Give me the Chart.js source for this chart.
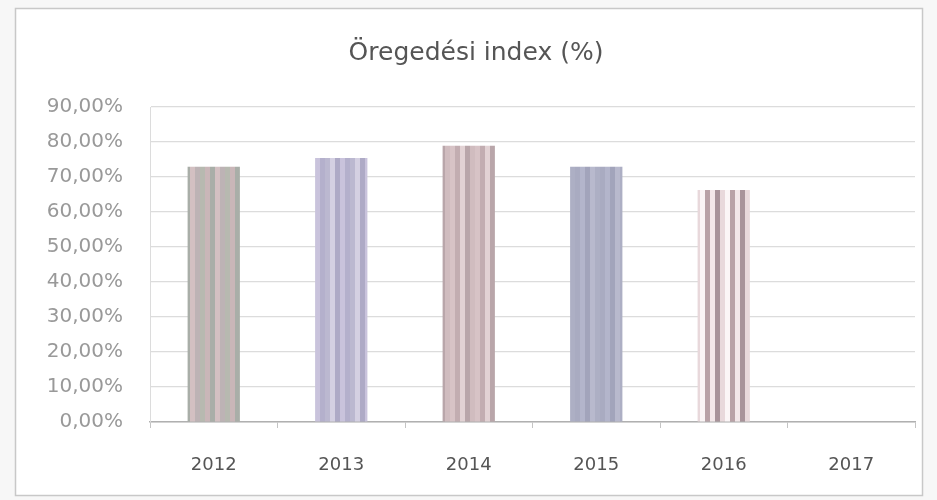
<!DOCTYPE html>
<html>
<head>
<meta charset="utf-8">
<script src="https://cdn.jsdelivr.net/npm/chart.js@4/dist/chart.umd.min.js"></script>
<style>
  html, body { margin: 0; padding: 0; background: #f7f7f7; }
  #wrap { width: 937px; height: 500px; }
</style>
</head>
<body>
<div id="wrap"><canvas id="chart" width="937" height="500"></canvas></div>
<script>
// Data
const years = ['2012', '2013', '2014', '2015', '2016', '2017'];
const agingIndex = [72.9, 75.4, 78.9, 72.9, 66.3, 0];
const yMax = 90;
const yStep = 10;

// Striped fills, imitating the scanned bars
const stripeSets = [
    ['#b7b9b0', '#c9b6b8', '#a9aea8', '#d3c0c2', '#bdb3b5'],
    ['#bbb8d0', '#d4d0e2', '#aeaac6', '#c9c3dc', '#b4b0cc'],
    ['#d7c3c6', '#c2adb1', '#e2d2d4', '#b9a6aa', '#d0bcbf'],
    ['#a9abc1', '#b3b5cb', '#a2a4bb', '#b8b9cd', '#adafc4'],
    ['#fbf5f6', '#b9a2a7', '#f3e7e9', '#a8939a', '#e8d8db'],
    ['#cccccc']
];

function makeStripes(colors) {
    const c = document.createElement('canvas');
    c.width = colors.length * 5;
    c.height = 4;
    const ctx = c.getContext('2d');
    colors.forEach((col, i) => {
        ctx.fillStyle = col;
        ctx.fillRect(i * 5, 0, 5, 4);
    });
    return ctx.createPattern(c, 'repeat');
}

// Light page frame behind the chart
const framePlugin = {
    id: 'frame',
    beforeDraw(chart) {
        const ctx = chart.ctx;
        ctx.save();
        ctx.fillStyle = '#ffffff';
        ctx.fillRect(15, 8, 907, 487);
        ctx.strokeStyle = '#c8c8c8';
        ctx.lineWidth = 1.5;
        ctx.strokeRect(15.5, 8.5, 907, 487);
        ctx.restore();
    }
};

new Chart(document.getElementById('chart'), {
    type: 'bar',
    data: {
        labels: years,
        datasets: [{
            label: 'Öregedési index (%)',
            data: agingIndex,
            backgroundColor: stripeSets.map(makeStripes),
            barPercentage: 0.41,
            categoryPercentage: 1
        }]
    },
    plugins: [framePlugin],
    options: {
        responsive: false,
        animation: false,
        layout: { padding: { top: 38, left: 37, right: 22, bottom: 0 } },
        plugins: {
            legend: { display: false },
            tooltip: { enabled: false },
            title: {
                display: true,
                text: 'Öregedési index (%)',
                color: '#555555',
                font: { family: 'DejaVu Sans', size: 25, weight: 'normal' },
                padding: { top: 0, bottom: 39 }
            }
        },
        scales: {
            x: {
                afterFit: (scale) => { scale.height = 78; },
                grid: {
                    offset: true,
                    drawOnChartArea: false,
                    tickLength: 6,
                    color: '#c4c4c4'
                },
                border: { color: '#b0b0b0', width: 1.5 },
                ticks: {
                    color: '#555555',
                    padding: 27,
                    font: { family: 'DejaVu Sans', size: 18 }
                }
            },
            y: {
                min: 0,
                max: yMax,
                afterFit: (scale) => { scale.width = 113; },
                grid: { color: '#dcdcdc', lineWidth: 1.2, drawTicks: false },
                border: { display: true, color: '#dcdcdc' },
                ticks: {
                    stepSize: yStep,
                    color: '#999999',
                    padding: 27,
                    font: { family: 'DejaVu Sans', size: 20 },
                    callback: (v) => v.toFixed(2).replace('.', ',') + '%'
                }
            }
        }
    }
});
</script>
</body>
</html>
